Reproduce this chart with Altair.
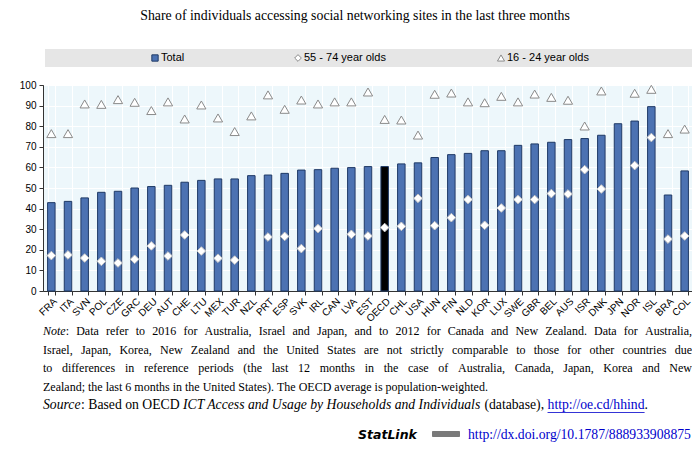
import altair as alt
import pandas as pd

countries = ["FRA", "ITA", "SVN", "POL", "CZE", "GRC", "DEU", "AUT", "CHE", "LTU", "MEX", "TUR",
             "NZL", "PRT", "ESP", "SVK", "IRL", "CAN", "LVA", "EST", "OECD", "CHL", "USA", "HUN",
             "FIN", "NLD", "KOR", "LUX", "SWE", "GBR", "BEL", "AUS", "ISR", "DNK", "JPN", "NOR",
             "ISL", "BRA", "COL"]
total = [42.9, 43.5, 45.2, 47.9, 48.4, 50.0, 50.7, 51.3, 52.8, 53.7, 54.4, 54.4,
         56.0, 56.3, 57.1, 58.7, 58.9, 59.6, 59.9, 60.4, 60.4, 61.7, 62.2, 64.8,
         66.2, 66.8, 68.1, 68.1, 70.7, 71.4, 72.2, 73.5, 74.0, 75.6, 81.2, 82.5,
         89.5, 46.6, 58.3]
age_55_74 = [17.2, 17.5, 16.0, 14.4, 13.6, 15.4, 21.9, 17.0, 27.2, 19.4, 15.9, 15.0,
             None, 26.2, 26.5, 20.6, 30.3, None, 27.5, 26.7, 30.8, 31.4, 45.0, 31.7,
             35.6, 44.4, 31.9, 40.3, 44.4, 44.4, 47.3, 47.1, 58.9, 49.5, None, 60.9,
             74.5, 25.2, 26.7]
age_16_24 = [76.4, 76.4, 90.8, 90.6, 92.9, 91.6, 87.6, 91.8, 83.5, 90.3, 84.0, 77.4,
             85.0, 95.2, 88.2, 92.7, 90.8, 91.8, 91.8, 96.6, 83.3, 83.0, 75.7, 95.5,
             96.1, 91.8, 91.4, 94.5, 91.8, 95.6, 94.0, 92.6, 80.1, 97.1, None, 96.0,
             97.9, 76.4, 78.6]
y_ticks = list(range(0, 101, 10))

title_text = "Share of individuals accessing social networking sites in the last three months"
legend_labels = ["Total", "55 - 74 year olds", "16 - 24 year olds"]
# footnote lines: list of (text, italic?) segments; first three are justified
note_lines = [
    [("Note", True), (": Data refer to 2016 for Australia, Israel and Japan, and to 2012 for Canada and New Zealand. Data for Australia,", False)],
    [("Israel, Japan, Korea, New Zealand and the United States are not strictly comparable to those for other countries due", False)],
    [("to differences in reference periods (the last 12 months in the case of Australia, Canada, Japan, Korea and New", False)],
    [("Zealand; the last 6 months in the United States). The OECD average is population-weighted.", False)],
]
source_parts = [("Source", True), (": Based on OECD ", False),
                ("ICT Access and Usage by Households and Individuals", True),
                (" (database), ", False), ("http://oe.cd/hhind", False), (".", False)]
statlink_label = "StatLink"
statlink_url = "http://dx.doi.org/10.1787/888933908875"

df = pd.DataFrame({"country": countries, "total": total,
                   "old": age_55_74, "young": age_16_24})

W, H = 650, 206
OX, OY = 43, 85  # page position of plot origin


def px(x):
    return x - OX


def py(y):
    return y - OY


BAR_BLUE = "#4c72b2"
BAR_EDGE = "#1f3a66"
LINK = "#0000cc"
SERIF = "Liberation Serif"
SANS = "Liberation Sans"

# Times (Liberation Serif) advance widths, per 1000 em -- used only for text layout
_ROMAN = dict(zip("ABCDEFGHIJKLMNOPQRSTUVWXYZ",
                  [722, 667, 667, 722, 611, 556, 722, 722, 333, 389, 722, 611, 889, 722, 722, 556,
                   722, 667, 556, 611, 722, 722, 944, 722, 722, 611]))
_ROMAN.update(zip("abcdefghijklmnopqrstuvwxyz",
                  [444, 500, 444, 500, 444, 333, 500, 500, 278, 278, 500, 278, 778, 500, 500, 500,
                   500, 333, 389, 278, 500, 500, 722, 500, 500, 444]))
_ITAL = dict(zip("ABCDEFGHIJKLMNOPQRSTUVWXYZ",
                 [611, 611, 667, 722, 611, 611, 722, 722, 333, 444, 667, 556, 833, 667, 722, 611,
                  722, 611, 500, 556, 722, 611, 833, 611, 556, 556]))
_ITAL.update(zip("abcdefghijklmnopqrstuvwxyz",
                 [500, 500, 444, 500, 444, 278, 500, 500, 278, 278, 444, 278, 722, 500, 500, 500,
                  500, 389, 389, 278, 500, 444, 667, 444, 444, 389]))
_PUNCT = {" ": 250, ",": 250, ".": 250, ":": 278, ";": 278, "(": 333, ")": 333,
          "-": 333, "/": 278}
for d in "0123456789":
    _ROMAN[d] = 500
    _ITAL[d] = 500


def tw(s, italic, size):
    tab = _ITAL if italic else _ROMAN
    return sum(tab.get(c, _PUNCT.get(c, 500)) for c in s) * size / 1000.0


FN_SIZE = 12
SRC_SIZE = 13.7
FN_LEFT, FN_RIGHT = 43, 692
note_y = [331, 349.5, 368, 386.5]
source_y = 405

rows = []
for li, (segs, yy) in enumerate(zip(note_lines, note_y)):
    # split into words made of styled pieces
    words = [[]]
    for text, it in segs:
        parts = text.split(" ")
        for k, p in enumerate(parts):
            if k > 0:
                words.append([])
            if p:
                words[-1].append((p, it))
    words = [w for w in words if w]
    widths = [sum(tw(p, it, FN_SIZE) for p, it in w) for w in words]
    justify = li < 3
    gap = (FN_RIGHT - FN_LEFT - sum(widths)) / (len(words) - 1) if justify else tw(" ", False, FN_SIZE)
    x = FN_LEFT
    for w, wd in zip(words, widths):
        xx = x
        for p, it in w:
            rows.append({"t": p, "x": px(xx), "y": py(yy), "it": it, "c": "black", "s": FN_SIZE})
            xx += tw(p, it, FN_SIZE)
        x += wd + gap

x = FN_LEFT
link_x0 = link_x1 = None
for text, it in source_parts:
    col = LINK if text.startswith("http") else "black"
    lead = len(text) - len(text.lstrip(" "))
    x += tw(" " * lead, it, SRC_SIZE)
    body = text.strip(" ")
    rows.append({"t": body, "x": px(x), "y": py(source_y), "it": it, "c": col, "s": SRC_SIZE})
    w = tw(body, it, SRC_SIZE)
    if col == LINK:
        link_x0, link_x1 = x, x + w
    trail = len(text) - len(text.rstrip(" "))
    x += w + tw(" " * trail, it, SRC_SIZE)
fn_df = pd.DataFrame(rows)


def one():
    return alt.Data(values=[{"k": 1}])


def text_layer(s, x, y, size=12, font=SERIF, style="normal", weight="normal",
               color="black", align="left"):
    return alt.Chart(one()).mark_text(
        text=s, align=align, baseline="middle", font=font, fontSize=size,
        fontStyle=style, fontWeight=weight, color=color
    ).encode(x=alt.value(px(x)), y=alt.value(py(y)))


def fn_layer(italic):
    return alt.Chart(fn_df[fn_df["it"] == italic]).mark_text(
        align="left", baseline="middle", font=SERIF,
        fontStyle="italic" if italic else "normal"
    ).encode(x=alt.X("x:Q", scale=None, axis=None), y=alt.Y("y:Q", scale=None, axis=None),
             text="t:N", color=alt.Color("c:N", scale=None, legend=None),
             size=alt.Size("s:Q", scale=None, legend=None))


xenc = alt.X(
    "country:N", sort=countries,
    scale=alt.Scale(paddingInner=0.55, paddingOuter=0.275),
    axis=alt.Axis(title=None, labelAngle=-45, tickBand="extent", grid=True,
                  gridColor="white", gridWidth=1, gridOpacity=1,
                  labelFont=SANS, labelFontSize=10, labelColor="black",
                  domainColor="#333333", tickColor="#333333", tickSize=4,
                  labelPadding=1),
)


def yenc(field):
    return alt.Y(
        f"{field}:Q",
        scale=alt.Scale(domain=[0, 100], nice=False),
        axis=alt.Axis(title=None, values=y_ticks, grid=True, gridColor="white",
                      gridWidth=1, gridOpacity=1, labelFont=SANS, labelFontSize=10,
                      labelColor="black", domainColor="#333333", tickColor="#333333",
                      tickSize=4, labelPadding=3),
    )


bars = alt.Chart(df).mark_bar(stroke=BAR_EDGE, strokeWidth=1).encode(
    x=xenc, y=yenc("total"),
    fill=alt.condition(alt.datum.country == "OECD", alt.value("black"), alt.value(BAR_BLUE)),
)
diamonds = alt.Chart(df).mark_point(
    shape="diamond", filled=True, fill="white", stroke="#c4c4c4", strokeWidth=1,
    size=75, opacity=1
).encode(x=xenc, y=yenc("old"))
triangles = alt.Chart(df).mark_point(
    shape="triangle-up", filled=True, fill="white", stroke="#8a8a8a", strokeWidth=1,
    size=85, opacity=1
).encode(x=xenc, y=yenc("young"))

# legend band
leg_y = 58
legend_band = alt.Chart(one()).mark_rect(color="#e6e6e6").encode(
    x=alt.value(px(45)), x2=alt.value(px(696)), y=alt.value(py(49)), y2=alt.value(py(67)))
leg_sq = alt.Chart(one()).mark_point(shape="square", filled=True, fill=BAR_BLUE,
                                     stroke=BAR_EDGE, strokeWidth=1, size=40, opacity=1).encode(
    x=alt.value(px(155)), y=alt.value(py(leg_y)))
leg_dia = alt.Chart(one()).mark_point(shape="diamond", filled=True, fill="white",
                                      stroke="#8a8a8a", strokeWidth=1, size=45, opacity=1).encode(
    x=alt.value(px(298)), y=alt.value(py(leg_y)))
leg_tri = alt.Chart(one()).mark_point(shape="triangle-up", filled=True, fill="white",
                                      stroke="#8a8a8a", strokeWidth=1, size=50, opacity=1).encode(
    x=alt.value(px(501)), y=alt.value(py(leg_y)))
leg_texts = [
    text_layer(legend_labels[0], 161, leg_y, size=11, font=SANS),
    text_layer(legend_labels[1], 304, leg_y, size=11, font=SANS),
    text_layer(legend_labels[2], 507, leg_y, size=11, font=SANS),
]

title = text_layer(title_text, 355, 16, size=13.8, align="center")

src_underline = alt.Chart(one()).mark_rule(color=LINK, strokeWidth=0.8).encode(
    x=alt.value(px(link_x0)), x2=alt.value(px(link_x1)), y=alt.value(py(source_y + 7.5)))

stat_y = 435
URL_SIZE = 13.7
statlink = text_layer(statlink_label, 358, stat_y, size=12.5, font="DejaVu Sans",
                      style="italic", weight="bold")
stat_icon = alt.Chart(one()).mark_rect(color="#7a7a7a", cornerRadius=1).encode(
    x=alt.value(px(432)), x2=alt.value(px(460)), y=alt.value(py(stat_y - 4)), y2=alt.value(py(stat_y + 2)))
stat_url = text_layer(statlink_url, 468, stat_y, size=URL_SIZE, color=LINK)
stat_underline = alt.Chart(one()).mark_rule(color=LINK, strokeWidth=0.8).encode(
    x=alt.value(px(468)), x2=alt.value(px(468 + tw(statlink_url, False, URL_SIZE))),
    y=alt.value(py(stat_y + 7.5)))

chart = alt.layer(
    bars, diamonds, triangles,
    legend_band, leg_sq, leg_dia, leg_tri, *leg_texts,
    title, fn_layer(False), fn_layer(True), src_underline,
    statlink, stat_icon, stat_url, stat_underline,
).properties(
    width=W, height=H,
    autosize=alt.AutoSizeParams(type="none"),
    padding={"left": OX - 8, "top": OY - 8, "right": 700 - 8 - OX - W, "bottom": 450 - 8 - OY - H},
    background="white",
).configure_view(
    fill="#edf7fb", stroke="#333333", strokeWidth=1,
)

chart.save("out.html", embed_options={"renderer": "svg", "actions": False})
